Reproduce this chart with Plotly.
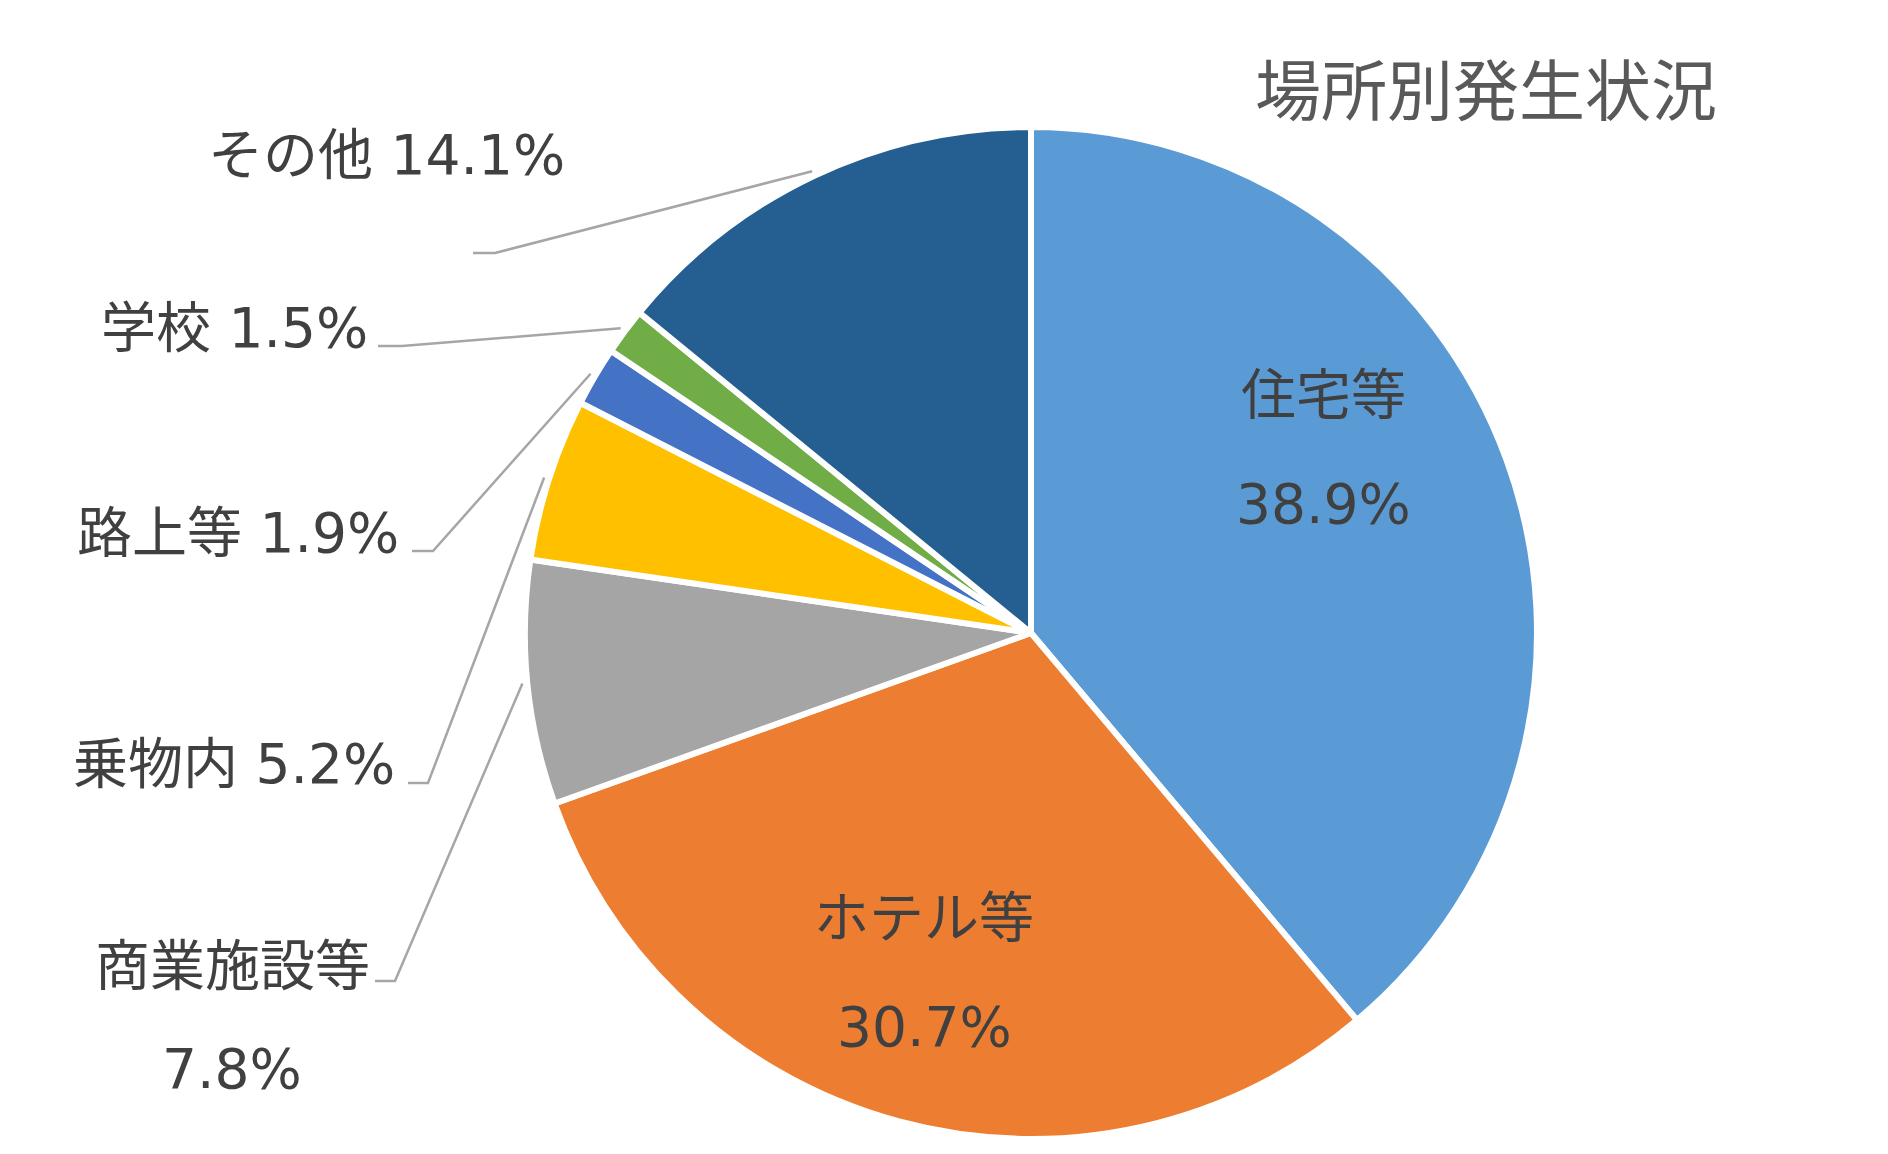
import math

import plotly.graph_objects as go

# data
places = ["住宅等", "ホテル等", "商業施設等", "乗物内", "路上等", "学校", "その他"]
shares = [38.9, 30.7, 7.8, 5.2, 1.9, 1.5, 14.1]
slice_colors = ["#5B9BD5", "#ED7D31", "#A5A5A5", "#FFC000", "#4472C4", "#70AD47", "#255E91"]
pct_labels = ["38.9%", "30.7%", "7.8%", "5.2%", "1.9%", "1.5%", "14.1%"]

W, H = 1888, 1154
OFF = 10  # page margin compensation
CX, CY, R = 1033 - OFF, 635 - OFF, 506  # pie centre / radius in px

TEXT = "#404040"
LINE = "#A6A6A6"
FONT = "DejaVu Sans, Noto Sans CJK JP, sans-serif"


def px(x, y):
    return x / W, 1 - y / H


def pos(x, y):
    # position measured on the picture -> paper coords
    return px(x - OFF, y - OFF)


fig = go.Figure(
    go.Pie(
        labels=places,
        values=shares,
        sort=False,
        direction="clockwise",
        rotation=0,
        marker=dict(colors=slice_colors, line=dict(color="white", width=6)),
        textinfo="none",
        hoverinfo="label+percent",
        domain=dict(x=[(CX - R) / W, (CX + R) / W], y=[1 - (CY + R) / H, 1 - (CY - R) / H]),
    )
)

# outside labels: (text right edge, text centre y, leader elbow start x, elbow end x, elbow y)
outside = {
    "その他": (569, 157, 475, 497, 255),
    "学校": (372, 330, 380, 404, 348),
    "路上等": (403, 535, 414, 435, 553),
    "乗物内": (399, 766, 410, 430, 785),
    "商業施設等": (None, None, 377, 397, 983),
}

total = sum(shares)
cum = 0.0
shapes = []
annotations = []
for name, val, pct in zip(places, shares, pct_labels):
    mid = (cum + val / 2) / total * 2 * math.pi
    cum += val
    if name not in outside:
        continue
    tx, ty, x0, x1, ly = outside[name]
    ex = CX + 1.01 * R * math.sin(mid)
    ey = CY - 1.01 * R * math.cos(mid)
    a, b = pos(x0, ly)
    c, d = pos(x1, ly)
    e, f = px(ex, ey)
    shapes.append(dict(type="path", xref="paper", yref="paper",
                       path=f"M {a} {b} L {c} {d} L {e} {f}",
                       line=dict(color=LINE, width=2.5)))
    if tx is not None:
        ax, ay = pos(tx, ty)
        annotations.append(dict(x=ax, y=ay, xref="paper", yref="paper", text=f"{name} {pct}",
                                xanchor="right", yanchor="middle", showarrow=False,
                                font=dict(size=55, color=TEXT, family=FONT)))

# 商業施設等 on two lines
for txt, (x, y) in [("商業施設等", (234, 968)), ("7.8%", (234, 1071))]:
    ax, ay = pos(x, y)
    annotations.append(dict(x=ax, y=ay, xref="paper", yref="paper", text=txt,
                            xanchor="center", yanchor="middle", showarrow=False,
                            font=dict(size=55, color=TEXT, family=FONT)))

# inside labels
for txt, (x, y) in [("住宅等", (1325, 397)), ("38.9%", (1325, 506)),
                    ("ホテル等", (926, 920)), ("30.7%", (926, 1029))]:
    ax, ay = pos(x, y)
    annotations.append(dict(x=ax, y=ay, xref="paper", yref="paper", text=txt,
                            xanchor="center", yanchor="middle", showarrow=False,
                            font=dict(size=55, color=TEXT, family=FONT)))

# title
tx, ty = pos(1488, 94)
annotations.append(dict(x=tx, y=ty, xref="paper", yref="paper", text="場所別発生状況",
                        xanchor="center", yanchor="middle", showarrow=False,
                        font=dict(size=66, color="#595959", family=FONT)))

fig.update_layout(
    width=W,
    height=H,
    margin=dict(l=0, r=0, t=0, b=0),
    paper_bgcolor="white",
    showlegend=False,
    shapes=shapes,
    annotations=annotations,
)

fig.write_html("out.html")
